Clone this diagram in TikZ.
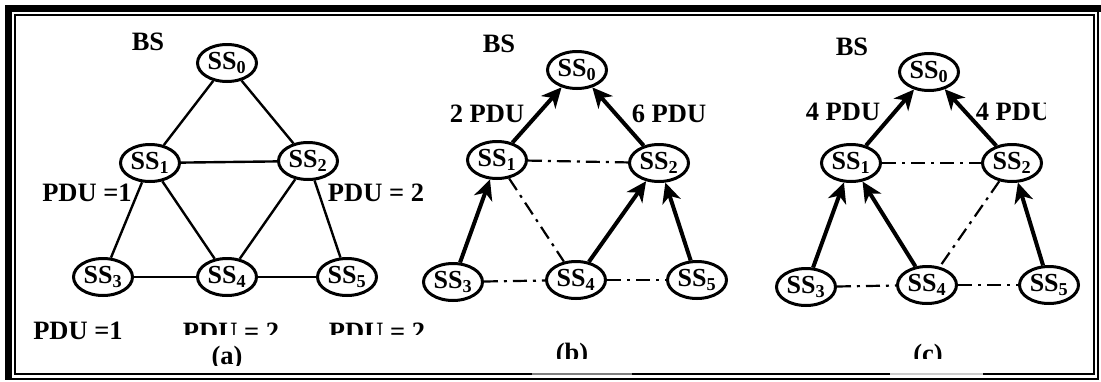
\documentclass[tikz,border=0pt]{standalone}
\usepackage{fontspec}
\setmainfont{Liberation Serif}
\usetikzlibrary{shapes.geometric,arrows.meta}
\begin{document}
\begin{tikzpicture}[x=1pt,y=-1pt,
  ss/.style={ellipse,draw,line width=3pt,minimum width=59pt,minimum height=37pt,inner sep=0pt,font=\bfseries\fontsize{26}{28}\selectfont},
  lbl/.style={anchor=base,inner sep=0pt,font=\bfseries\fontsize{26.5}{28}\selectfont},
  plain/.style={line width=2.4pt},
  flow/.style={line width=4pt,-{Stealth[length=20pt,width=19pt,inset=6pt]}},
  dd/.style={line width=2.2pt,dash pattern=on 14pt off 6pt on 3pt off 6pt}]
\useasboundingbox (0,0) rectangle (1101,381);
% frame
\fill (5,5) rectangle (1101,12);
\fill (5,5) rectangle (12,380);
\draw[line width=2pt] (15,15) rectangle (1094,374);
\draw[line width=2pt] (1098,12) -- (1098,379) -- (12,379);
\draw[line width=2pt,gray] (532,374) -- (632,374);
\draw[line width=2pt,gray!40] (890,374) -- (983,374);

% ---------- panel (a)
\node[lbl] (bsa) at (148,50) {BS};
\node[ss] (a0) at (227,63) {SS\textsubscript{0}};
\node[ss] (a1) at (150,163) {SS\textsubscript{1}};
\node[ss] (a2) at (308,161) {SS\textsubscript{2}};
\node[ss] (a3) at (103,277) {SS\textsubscript{3}};
\node[ss] (a4) at (227,277) {SS\textsubscript{4}};
\node[ss] (a5) at (347,277) {SS\textsubscript{5}};
\node[lbl] (pa1) at (87,201) {PDU =1};
\node[lbl] (pa2) at (376,201) {PDU = 2};
\node[lbl] (pa3) at (78,339) {PDU =1};
\begin{scope}
\clip (150,300) rectangle (440,334);
\node[lbl] (pa4) at (231,340) {PDU = 2};
\node[lbl] (pa5) at (377,340) {PDU = 2};
\end{scope}
\begin{scope}
\clip (180,330) rectangle (280,365);
\node[lbl] (capa) at (227,364) {(a)};
\end{scope}
\draw[plain] (a0) -- (a1);
\draw[plain] (a0) -- (a2);
\draw[plain] (a1) -- (a2);
\draw[plain] (a1) -- (a3);
\draw[plain] (a1) -- (a4);
\draw[plain] (a2) -- (a4);
\draw[plain] (a2) -- (a5);
\draw[plain] (a3) -- (a4);
\draw[plain] (a4) -- (a5);

% ---------- panel (b)
\node[lbl] (bsb) at (499,52) {BS};
\node[ss] (b0) at (577,70) {SS\textsubscript{0}};
\node[ss] (b1) at (497,160) {SS\textsubscript{1}};
\node[ss] (b2) at (659,163) {SS\textsubscript{2}};
\node[ss] (b3) at (453,282) {SS\textsubscript{3}};
\node[ss] (b4) at (576,280) {SS\textsubscript{4}};
\node[ss] (b5) at (697,280) {SS\textsubscript{5}};
\node[lbl] (pb1) at (487,122) {2 PDU};
\node[lbl] (pb2) at (669,122) {6 PDU};
\begin{scope}
\clip (520,330) rectangle (630,358);
\node[lbl] (capb) at (572,361) {(b)};
\end{scope}
\draw[flow] (b1) -- (b0);
\draw[flow] (b2) -- (b0);
\draw[flow] (b3) -- (b1);
\draw[flow] (b4) -- (b2);
\draw[flow] (b5) -- (b2);
\draw[dd] (b1) -- (b2);
\draw[dd] (b1) -- (b4);
\draw[dd] (b3) -- (b4);
\draw[dd] (b4) -- (b5);

% ---------- panel (c)
\node[lbl] (bsc) at (852,55) {BS};
\node[ss] (c0) at (929,72) {SS\textsubscript{0}};
\node[ss] (c1) at (851,163) {SS\textsubscript{1}};
\node[ss] (c2) at (1012,163) {SS\textsubscript{2}};
\node[ss] (c3) at (806,287) {SS\textsubscript{3}};
\node[ss] (c4) at (927,285) {SS\textsubscript{4}};
\node[ss] (c5) at (1049,285) {SS\textsubscript{5}};
\node[lbl] (pc1) at (843,120) {4 PDU};
\begin{scope}
\clip (960,90) rectangle (1045,130);
\node[lbl] (pc2) at (1013,120) {4 PDU};
\end{scope}
\begin{scope}
\clip (880,330) rectangle (980,358);
\node[lbl] (capc) at (928,362) {(c)};
\end{scope}
\draw[flow] (c1) -- (c0);
\draw[flow] (c2) -- (c0);
\draw[flow] (c3) -- (c1);
\draw[flow] (c4) -- (c1);
\draw[flow] (c5) -- (c2);
\draw[dd] (c1) -- (c2);
\draw[dd] (c2) -- (c4);
\draw[dd] (c3) -- (c4);
\draw[dd] (c4) -- (c5);
\end{tikzpicture}
\end{document}
